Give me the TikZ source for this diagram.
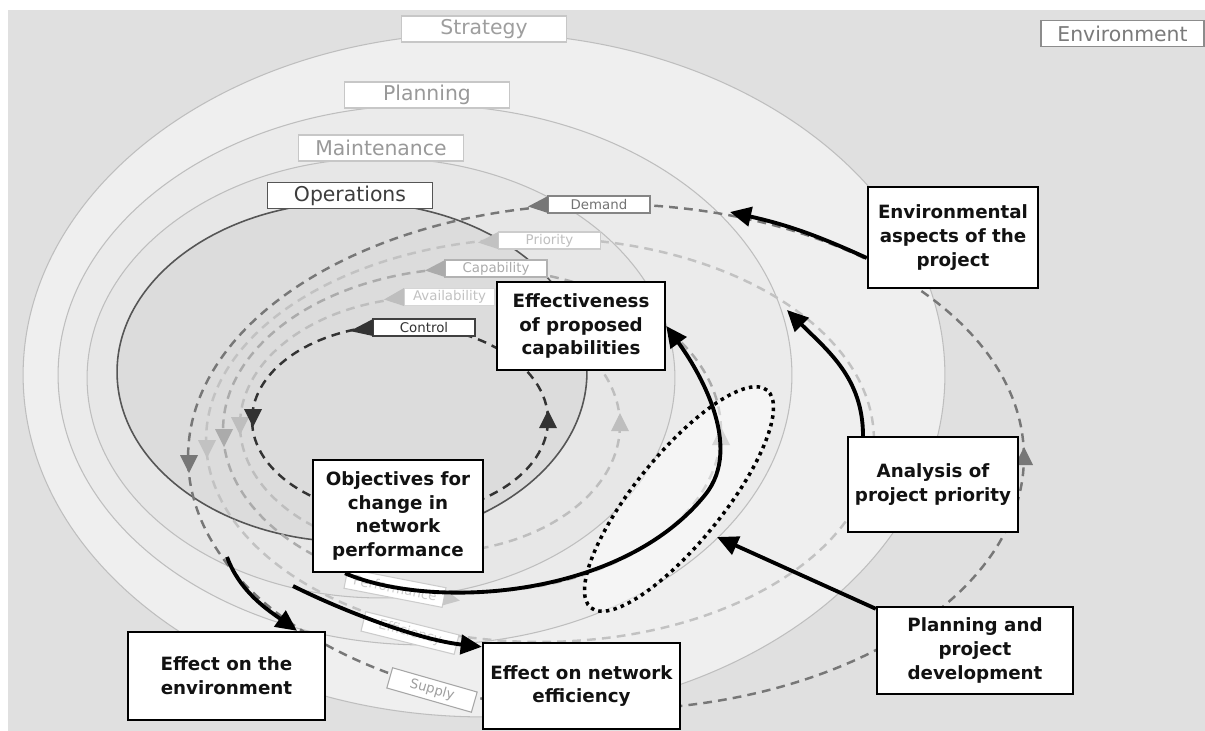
\documentclass[tikz,border=0pt]{standalone}
\usepackage{fontspec}
\setmainfont{DejaVu Sans}
\usetikzlibrary{arrows.meta,calc}

\definecolor{bgout}{HTML}{E0E0E0}
\definecolor{ringS}{HTML}{EFEFEF}
\definecolor{ringP}{HTML}{EBEBEB}
\definecolor{ringM}{HTML}{E7E7E7}
\definecolor{ringO}{HTML}{DCDCDC}
\definecolor{ringline}{HTML}{BEBEBE}
\definecolor{opline}{HTML}{555555}
\definecolor{cDemand}{HTML}{777777}
\definecolor{cPriority}{HTML}{C2C2C2}
\definecolor{cCapab}{HTML}{ABABAB}
\definecolor{cAvail}{HTML}{BEBEBE}
\definecolor{cControl}{HTML}{333333}

\begin{document}
\begin{tikzpicture}[x=0.02cm,y=0.02cm,
  ringtag/.style={draw=#1, fill=white, line width=0.7pt, minimum width=3.3cm,
    minimum height=0.52cm, inner sep=0pt, font=\fontsize{11.6}{13}\selectfont},
  looptag/.style={draw=#1, fill=white, line width=0.6pt, minimum width=2.04cm,
    minimum height=0.34cm, inner sep=0pt, font=\fontsize{7.6}{9}\selectfont},
  bigbox/.style={draw=black, fill=white, line width=1.4pt, inner sep=0pt,
    align=center, text=black!93, font=\bfseries\fontsize{10.4}{13.6}\selectfont},
  loopline/.style={dash pattern=on 5pt off 3.5pt, line width=1.4pt},
  bigarrow/.style={line width=2.2pt, -{Triangle[length=12pt,width=11pt]}}]

% canvas
\fill[white] (0,0) rectangle (1205,-731);
\fill[bgout] (8,-10) rectangle (1205,-731);
\useasboundingbox (0,0) rectangle (1205,-731);

% nested management levels
\filldraw[fill=ringS, draw=ringline, line width=0.6pt] (484,-375) ellipse [x radius=9.22cm, y radius=6.84cm];
\filldraw[fill=ringP, draw=ringline, line width=0.6pt] (425,-375) ellipse [x radius=7.34cm, y radius=5.4cm];
\filldraw[fill=ringM, draw=ringline, line width=0.6pt] (381,-378) ellipse [x radius=5.88cm, y radius=4.4cm];
\filldraw[fill=ringO, draw=opline, line width=0.9pt] (352,-372) ellipse [x radius=4.7cm, y radius=3.4cm];

\node[ringtag=black!22, text=black!38] (tStrat) at (484,-29) {Strategy};
\node[ringtag=black!22, text=black!40] (tPlan) at (427,-95) {Planning};
\node[ringtag=black!22, text=black!40] (tMaint) at (381,-148) {Maintenance};
\node[ringtag=opline, text=black!76, line width=1pt] (tOper) at (350,-195.5) {Operations};
\node[ringtag=black!45, text=black!52, minimum width=3.26cm] (tEnv) at (1122.5,-33.5) {Environment};

% feedback loops
\draw[loopline, cDemand]   (606,-457) ellipse [x radius=8.36cm, y radius=5.06cm];
\draw[loopline, cPriority] (540,-440) ellipse [x radius=6.68cm, y radius=4.04cm];
\draw[loopline, cCapab]    (472,-430) ellipse [x radius=4.98cm, y radius=3.24cm];
\draw[loopline, cAvail]    (430,-425) ellipse [x radius=3.8cm, y radius=2.56cm];
\draw[loopline, cControl]  (400,-420) ellipse [x radius=2.96cm, y radius=1.9cm];

% direction marks on the left side (downwards)
\fill[cDemand]   (180,-455) -- (198,-455) -- (189,-473) -- cycle;
\fill[cPriority] (198,-440) -- (216,-440) -- (207,-458) -- cycle;
\fill[cCapab]    (215,-429) -- (233,-429) -- (224,-447) -- cycle;
\fill[cAvail]    (231,-417) -- (249,-417) -- (240,-435) -- cycle;
\fill[cControl]  (244,-409) -- (262,-409) -- (253,-427) -- cycle;

% direction marks on the right side (upwards)
\fill[cControl] (539,-428) -- (557,-428) -- (548,-410) -- cycle;
\fill[cAvail]   (611,-431) -- (629,-431) -- (620,-413) -- cycle;
\fill[cCapab]   (712,-445) -- (730,-445) -- (721,-427) -- cycle;
\fill[cDemand]  (1015,-465) -- (1033,-465) -- (1024,-447) -- cycle;

% loop names along the top
\node[looptag=black!48, text=black!55] (lDemand) at (599,-204.5) {Demand};
\node[looptag=black!20, text=black!25] (lPriority) at (549.5,-240.5) {Priority};
\node[looptag=black!30, text=black!33] (lCapab) at (496,-268.5) {Capability};
\node[looptag=black!16, text=black!24, minimum width=1.82cm] (lAvail) at (449.5,-297) {Availability};
\node[looptag=black!75, text=black!80] (lControl) at (424,-327.5) {Control};

\fill[cDemand]   (548,-196) -- (528,-206.5) -- (548,-213) -- cycle;
\fill[cPriority] (498,-232) -- (478,-242.5) -- (498,-249) -- cycle;
\fill[cCapab]    (445,-260) -- (425,-270.5) -- (445,-277) -- cycle;
\fill[cAvail]    (404,-288) -- (384,-299.5) -- (404,-306) -- cycle;
\fill[cControl]  (373,-319) -- (350,-331) -- (373,-336) -- cycle;

% loop names along the bottom
\node[looptag=black!20, text=black!20, rotate=-11, minimum width=2cm, minimum height=0.4cm] (lPerf) at (395,-588) {Performance};
\fill[black!22, rotate around={-11:(395,-588)}] (445,-580) -- (461,-588) -- (445,-596) -- cycle;
\node[looptag=black!20, text=black!20, rotate=-14, minimum width=1.92cm, minimum height=0.4cm] (lEffic) at (410,-633) {Efficiency};
\node[looptag=black!35, text=black!38, rotate=-16, minimum width=1.76cm, minimum height=0.42cm] (lSupply) at (432,-690) {Supply};

% project scope
\filldraw[fill=white, fill opacity=0.5, draw=black, line width=2pt, dash pattern=on 2pt off 2.4pt,
  rotate around={51:(679,-499)}] (679,-499) ellipse [x radius=2.8cm, y radius=0.88cm];

% statements
\node[bigbox, minimum width=3.4cm, minimum height=2.02cm] (env) at (953,-237.5) {Environmental\\aspects of the\\project};
\node[bigbox, minimum width=3.36cm, minimum height=1.76cm] (eff) at (581,-326) {Effectiveness\\of proposed\\capabilities};
\node[bigbox, minimum width=3.4cm, minimum height=1.9cm] (ana) at (933,-484.5) {Analysis of\\project priority};
\node[bigbox, minimum width=3.4cm, minimum height=2.24cm] (obj) at (398,-516) {Objectives for\\change in\\network\\performance};
\node[bigbox, minimum width=3.92cm, minimum height=1.74cm] (plan) at (975,-650.5) {Planning and\\project\\development};
\node[bigbox, minimum width=3.94cm, minimum height=1.76cm] (effenv) at (226.5,-676) {Effect on the\\environment};
\node[bigbox, minimum width=3.94cm, minimum height=1.72cm] (effnet) at (581.5,-686) {Effect on network\\efficiency};

% links
\coordinate (dmdHit) at (730,-212);
\coordinate (priHit) at (787,-310);
\coordinate (dotHit) at (717,-537);
\coordinate (envStart) at (227,-557);
\coordinate (netStart) at (293,-586);

\draw[bigarrow] ([yshift=-0.41cm]env.west) to[bend right=6] (dmdHit);
\draw[bigarrow] ([xshift=-1.4cm]ana.north) to[out=90,in=-45] (priHit);
\draw[bigarrow] ([yshift=-0.06cm]plan.north west) -- (dotHit);
\draw[bigarrow] ([xshift=-1.06cm]obj.south) .. controls (430,-610) and (620,-600) .. (705,-495)
  .. controls (745,-446) and (697,-368) .. (eff.east);
\draw[bigarrow] (envStart) .. controls (240,-592) and (268,-610) .. ([xshift=1.41cm]effenv.north);
\draw[bigarrow] (netStart) .. controls (345,-612) and (420,-640) .. ([yshift=-0.1cm]effnet.north west);

\end{tikzpicture}
\end{document}
